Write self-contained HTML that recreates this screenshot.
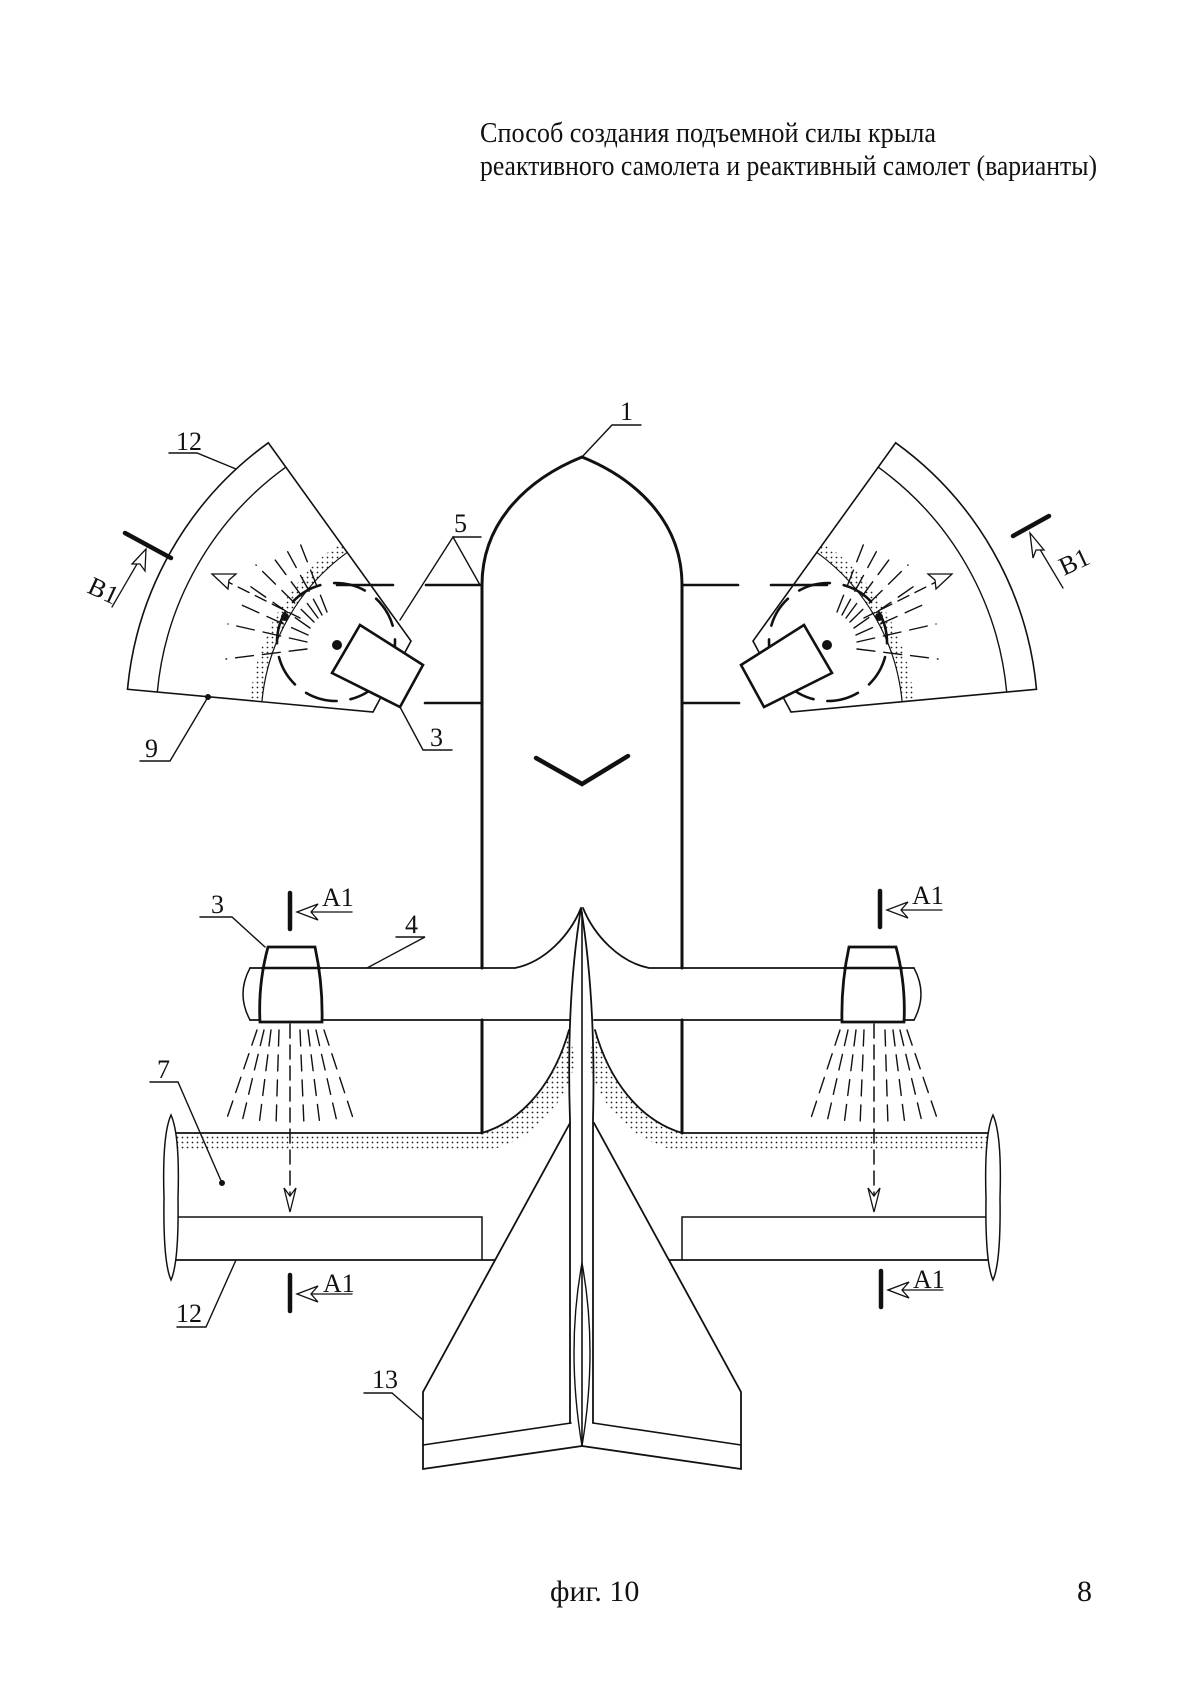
<!DOCTYPE html>
<html><head><meta charset="utf-8"><style>
html,body{margin:0;padding:0;background:#fff}
svg{display:block}
text{font-family:"Liberation Serif","DejaVu Serif",serif;fill:#111}
</style></head><body>
<svg width="1200" height="1696" viewBox="0 0 1200 1696" xmlns="http://www.w3.org/2000/svg">
<defs>
<pattern id="dots" width="5" height="5" patternUnits="userSpaceOnUse"><circle cx="2.5" cy="2.5" r="0.9" fill="#222"/></pattern>
<g id="half" fill="none" stroke="#111" stroke-linecap="round">
 <path d="M127.5,689.3 A343,343 0 0 1 268.3,442.8 L411,641 L373,712 Z" stroke-width="1.6"/>
 <path d="M157.3,692.1 A313,313 0 0 1 285.9,467.1" stroke-width="1.4"/>
 <path d="M261.9,701.8 A208,208 0 0 1 347.3,552.3 L340.3,542.6 A220,220 0 0 0 250,700.7 Z" fill="url(#dots)" stroke="none"/>
 <path d="M261.9,701.8 A208,208 0 0 1 347.3,552.3" stroke-width="1.2"/>
 <g stroke-width="1.4" stroke-dasharray="18 9">
  <line x1="307" y1="649" x2="226" y2="659"/>
  <line x1="307" y1="642" x2="228" y2="624"/>
  <line x1="308" y1="635" x2="235" y2="602"/>
  <line x1="310" y1="628" x2="244" y2="582"/>
  <line x1="314" y1="622" x2="256" y2="565"/>
  <line x1="318" y1="618" x2="270" y2="553"/>
  <line x1="322" y1="615" x2="284" y2="545"/>
  <line x1="327" y1="612" x2="298" y2="538"/>
 </g>
 <circle cx="336" cy="642" r="59" stroke-width="2.6" stroke-dasharray="32 14"/>
 <circle cx="337" cy="645" r="5" fill="#111" stroke="none"/>
 <circle cx="285" cy="617" r="4" fill="#111" stroke="none"/>
 <polygon points="360,625 423,665 400,707 332,673" stroke-width="2.6" fill="#fff"/>
 <line x1="300" y1="618" x2="220" y2="578" stroke-width="1.4" stroke-dasharray="12 7"/>
 <path d="M212,574 L236,574 L229,580 L228,589 Z" stroke-width="1.3" fill="#fff"/>
 <line x1="337" y1="585" x2="393" y2="585" stroke-width="2.6"/>
 <line x1="426" y1="585" x2="481" y2="585" stroke-width="2.6"/>
 <line x1="425" y1="703" x2="481" y2="703" stroke-width="2.6"/>
 <path d="M482,585 C482,520 530,478 582,457" stroke-width="3"/>
 <line x1="482" y1="585" x2="482" y2="968" stroke-width="3"/>
 <line x1="482" y1="1020" x2="482" y2="1133" stroke-width="3"/>
 <path d="M250,968 L515,968 C545,962 570,935 581,908" stroke-width="1.8"/>
 <line x1="250" y1="1020" x2="570" y2="1020" stroke-width="1.8"/>
 <path d="M250,968 Q236,994 250,1020" stroke-width="1.5"/>
 <path d="M268,947 L315,947 Q323,984 322,1022 L260,1022 Q258,984 268,947 Z" stroke-width="2.8" fill="#fff"/>
 <line x1="262" y1="968" x2="320" y2="968" stroke-width="2.6"/>
 <g stroke-width="1.4" stroke-dasharray="16 9">
  <line x1="257" y1="1030" x2="227" y2="1118"/>
  <line x1="264" y1="1030" x2="242" y2="1122"/>
  <line x1="271" y1="1030" x2="259" y2="1125"/>
  <line x1="279" y1="1030" x2="276" y2="1126"/>
  <line x1="300" y1="1030" x2="304" y2="1126"/>
  <line x1="308" y1="1030" x2="320" y2="1125"/>
  <line x1="316" y1="1030" x2="337" y2="1122"/>
  <line x1="324" y1="1030" x2="353" y2="1118"/>
 </g>
 <line x1="290" y1="1024" x2="290" y2="1200" stroke-width="1.5" stroke-dasharray="14 7"/>
 <path d="M290,1212 L284,1188 L290,1196 L296,1188 Z" stroke-width="1.3" fill="#fff"/>
 <path d="M569,1030 C555,1080 525,1120 482,1133 L172,1133" stroke-width="1.8"/>
 <path d="M569,1030 C555,1080 525,1120 482,1133 L172,1133 L172,1150 L490,1150 C540,1138 570,1095 575,1060 Z" fill="url(#dots)" stroke="none"/>
 <path d="M172,1217 L482,1217 L482,1260" stroke-width="1.5"/>
 <line x1="172" y1="1260" x2="495" y2="1260" stroke-width="1.8"/>
 <path d="M171,1115 Q162,1135 164,1198 Q163,1262 171,1280 Q179,1262 178,1198 Q180,1135 171,1115 Z" stroke-width="1.5" fill="#fff"/>
 <path d="M570,1123 L423,1392 L423,1469 L582,1446" stroke-width="1.8"/>
 <line x1="423" y1="1445" x2="571" y2="1423" stroke-width="1.6"/>
</g>
<g id="mark" fill="none" stroke="#111" stroke-linecap="round">
 <line x1="0" y1="0" x2="0" y2="36" stroke-width="4.5"/>
 <line x1="7" y1="19" x2="62" y2="19" stroke-width="1.3"/>
 <path d="M7,19 L28,11 L21,19 L28,27 Z" stroke-width="1.3" fill="#fff"/>
</g>
</defs>

<text x="480" y="142" font-size="28" textLength="456" lengthAdjust="spacingAndGlyphs">Способ создания  подъемной силы крыла</text>
<text x="480" y="175" font-size="28" textLength="617" lengthAdjust="spacingAndGlyphs">реактивного самолета и реактивный самолет (варианты)</text>

<use href="#half"/>
<use href="#half" transform="translate(1164,0) scale(-1,1)"/>

<use href="#mark" x="290" y="893"/>
<use href="#mark" x="290" y="1275"/>
<use href="#mark" x="880" y="891"/>
<use href="#mark" x="881" y="1271"/>

<g fill="none" stroke="#111" stroke-linecap="round">
 <path d="M581,908 Q566,1000 570,1120 L570,1423 M581,908 Q596,1000 593,1120 L593,1423" stroke-width="1.8"/>
 <line x1="582" y1="912" x2="582" y2="1446" stroke-width="1.6"/>
 <path d="M582,1263 Q566,1350 582,1446 Q598,1350 582,1263" stroke-width="1.4"/>
 <polyline points="536,758 582,784 628,756" stroke-width="4.5"/>
 <polyline points="582,457 612,425 641,425" stroke-width="1.4"/>
 <polyline points="169,453 197,453 236,469" stroke-width="1.4"/>
 <polyline points="400,620 453,537 480,585" stroke-width="1.4"/>
 <line x1="453" y1="537" x2="481" y2="537" stroke-width="1.4"/>
 <polyline points="400,707 423,750 452,750" stroke-width="1.4"/>
 <polyline points="208,697 170,761 140,761" stroke-width="1.4"/>
 <circle cx="208" cy="697" r="2.5" fill="#111"/>
 <polyline points="200,917 232,917 265,947" stroke-width="1.4"/>
 <polyline points="396,937 425,937 367,968" stroke-width="1.4"/>
 <polyline points="150,1082 178,1082 222,1183" stroke-width="1.4"/>
 <circle cx="222" cy="1183" r="2.5" fill="#111"/>
 <polyline points="236,1260 206,1327 177,1327" stroke-width="1.4"/>
 <polyline points="423,1420 392,1393 364,1393" stroke-width="1.4"/>
 <line x1="125" y1="533" x2="171" y2="558" stroke-width="4.5"/>
 <line x1="112" y1="607" x2="144" y2="552" stroke-width="1.3"/>
 <path d="M146,549 L145,571 L140,564 L132,564 Z" stroke-width="1.3" fill="#fff"/>
 <line x1="1013" y1="536" x2="1049" y2="516" stroke-width="4.5"/>
 <line x1="1063" y1="588" x2="1032" y2="536" stroke-width="1.3"/>
 <path d="M1030,533 L1044,550 L1036,550 L1033,558 Z" stroke-width="1.3" fill="#fff"/>
</g>

<g font-size="26">
 <text x="620" y="420">1</text>
 <text x="176" y="450">12</text>
 <text x="454" y="532">5</text>
 <text x="430" y="746">3</text>
 <text x="145" y="757">9</text>
 <text x="211" y="913">3</text>
 <text x="405" y="933">4</text>
 <text x="157" y="1078">7</text>
 <text x="176" y="1322">12</text>
 <text x="372" y="1388">13</text>
 <text x="322" y="906">A1</text>
 <text x="912" y="904">A1</text>
 <text x="323" y="1292">A1</text>
 <text x="913" y="1288">A1</text>
 <text transform="translate(86,592) rotate(25)">B1</text>
 <text transform="translate(1064,576) rotate(-25)">B1</text>
</g>
<text x="550" y="1601" font-size="30">фиг. 10</text>
<text x="1077" y="1601" font-size="30">8</text>
</svg>
</body></html>
